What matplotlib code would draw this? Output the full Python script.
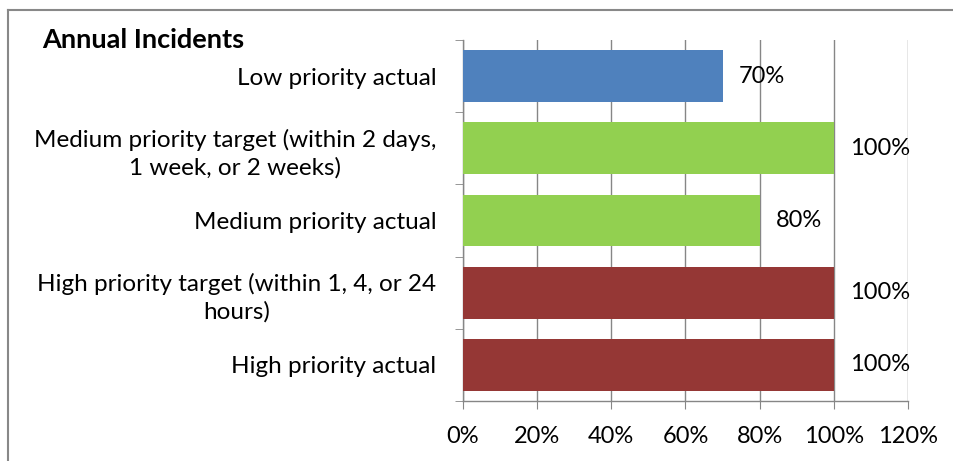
import matplotlib.pyplot as plt
from matplotlib.lines import Line2D

plt.rcParams['font.family'] = ['Lato', 'DejaVu Sans']

# data, bottom to top
categorias = ['High priority actual',
              'High priority target (within 1, 4, or 24\nhours)',
              'Medium priority actual',
              'Medium priority target (within 2 days,\n1 week, or 2 weeks)',
              'Low priority actual']
valores = [100, 100, 80, 100, 70]
colores = ['#953735', '#953735', '#92D050', '#92D050', '#4F81BD']
xticks = [0, 20, 40, 60, 80, 100, 120]

fig = plt.figure(figsize=(9.54, 4.61), dpi=100)
ax = fig.add_axes([463 / 954, 1 - 401 / 461, 445 / 954, 361 / 461])

pos = list(range(len(categorias)))
barras = ax.barh(pos, valores, height=0.72, color=colores, zorder=3)

for b, v in zip(barras, valores):
    ax.annotate(f'{v}%', (b.get_width(), b.get_y() + b.get_height() / 2),
                xytext=(12, 0), textcoords='offset points', ha='left', va='center',
                fontsize=17, color='black', zorder=4)

ax.set_xlim(0, 120)
ax.set_ylim(-0.5, len(categorias) - 0.5)
ax.set_xticks(xticks)
ax.set_xticklabels([f'{t}%' for t in xticks], fontsize=17)
ax.set_yticks(pos)
ax.set_yticklabels(categorias, fontsize=17.5, multialignment='center', linespacing=1.35)
ax.set_yticks([p - 0.5 for p in pos] + [len(pos) - 0.5], minor=True)
ax.tick_params(axis='y', which='major', length=0, pad=19)
ax.tick_params(axis='y', which='minor', length=6, color='#868686', direction='out')
ax.tick_params(axis='x', length=6, color='#868686', direction='out', pad=12)

ax.grid(axis='x', color='#868686', linewidth=1, zorder=0)
for s in ['top', 'right']:
    ax.spines[s].set_visible(False)
for s in ['left', 'bottom']:
    ax.spines[s].set_color('#868686')
    ax.spines[s].set_linewidth(1)

fig.text(42 / 954, 1 - 40 / 461, 'Annual Incidents', fontsize=19.5, fontweight='bold',
         ha='left', va='center')

# marco del grafico
fig.add_artist(Line2D([8 / 954, 8 / 954], [0, 1 - 10 / 461], transform=fig.transFigure,
                      color='#888888', linewidth=1.5))
fig.add_artist(Line2D([8 / 954, 1], [1 - 10 / 461, 1 - 10 / 461], transform=fig.transFigure,
                      color='#888888', linewidth=1.5))

fig.savefig('out.png', dpi=100)
